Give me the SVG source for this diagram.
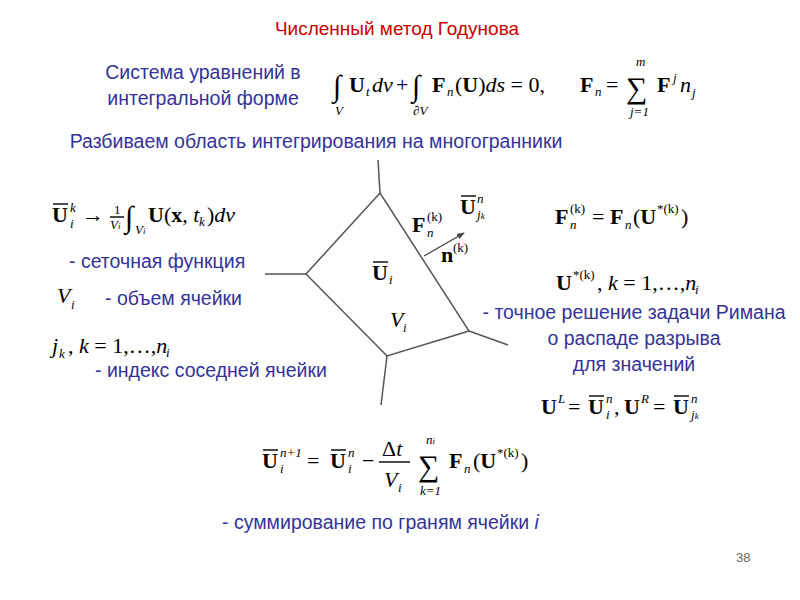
<svg xmlns="http://www.w3.org/2000/svg" width="800" height="600" viewBox="0 0 800 600">
<style>
.t{font-family:"Liberation Sans",Arial,sans-serif;fill:#333399;font-size:19.5px}
.m{font-family:"Liberation Serif","Times New Roman",serif;fill:#000;font-size:22px}
.b{font-weight:bold}
.i{font-style:italic}
.s{font-size:13px}
.xs{font-size:9px}
.big{font-size:30px}
.ln{stroke:#555;stroke-width:1.5;fill:none}
.ob{stroke:#000;stroke-width:1.4}
</style>
<defs><marker id="ah" markerWidth="8" markerHeight="8" refX="7" refY="4" orient="auto" markerUnits="userSpaceOnUse"><path d="M0,1 L8,4 L0,7z" fill="#444"/></marker></defs>
<rect width="800" height="600" fill="#fff"/>
<text x="397" y="35" text-anchor="middle" style="font-family:'Liberation Sans',Arial,sans-serif;font-size:19px;fill:#cc0000">Численный метод Годунова</text>
<text class="t" x="203" y="79" text-anchor="middle">Система уравнений в</text>
<text class="t" x="203" y="105" text-anchor="middle">интегральной форме</text>
<g id="eq-top">
<text class="m big" x="333" y="96">∫</text>
<text class="m b" x="349" y="92">U</text><text class="m s i" x="366" y="96">t</text>
<text class="m i" x="372" y="92">dv</text><text class="m" x="396" y="92">+</text>
<text class="m big" x="412" y="96">∫</text>
<text class="m b" x="432" y="92">F</text><text class="m s i" x="447" y="96">n</text>
<text class="m" x="455" y="92">(<tspan class="b">U</tspan>)<tspan class="i">ds</tspan> = 0,</text>
<text class="m s i" x="335" y="115">V</text><text class="m s i" x="413" y="115">∂V</text>
<text class="m b" x="580" y="92">F</text><text class="m s i" x="595" y="96">n</text>
<text class="m" x="606" y="92">=</text>
<text class="m big" x="626" y="98">∑</text>
<text class="m s i" x="636" y="66">m</text><text class="m s i" x="630" y="116">j=1</text>
<text class="m b" x="657" y="92">F</text><text class="m s i" x="673" y="82">j</text>
<text class="m i" x="680" y="92">n</text><text class="m s i" x="692" y="97">j</text>
</g>
<text class="t" x="316" y="148" text-anchor="middle">Разбиваем область интегрирования на многогранники</text>
<g id="cell">
<polygon class="ln" points="380,193 306,274 387,356 469,331"/>
<line class="ln" x1="380" y1="193" x2="378" y2="160"/>
<line class="ln" x1="306" y1="274" x2="265" y2="274"/>
<line class="ln" x1="387" y1="356" x2="381" y2="405"/>
<line class="ln" x1="469" y1="331" x2="508" y2="345"/>
</g>
<g id="connectors"><line x1="424" y1="256" x2="464" y2="233" stroke="#444" stroke-width="1.3" marker-end="url(#ah)"/></g>
<g id="labels-cell">
<text class="m b" x="372" y="280">U</text><text class="m s i" x="389" y="284">i</text><line class="ob" x1="373" y1="262" x2="388" y2="262"/>
<text class="m i" x="390" y="327">V</text><text class="m s i" x="403" y="332">i</text>
<text class="m b" x="412" y="232">F</text><text class="m s i" x="427" y="237">n</text><text class="m s" x="427" y="221">(k)</text>
<text class="m b" x="460" y="214">U</text><text class="m s i" x="477" y="203">n</text><text class="m s i" x="477" y="219">j<tspan class="xs">k</tspan></text><line class="ob" x1="461" y1="196" x2="476" y2="196"/>
<text class="m b" x="441" y="262">n</text><text class="m s" x="453" y="252">(k)</text>
</g>
<g id="left">
<text class="m b" x="52" y="222">U</text><line class="ob" x1="53" y1="204" x2="68" y2="204"/>
<text class="m s i" x="70" y="212">k</text><text class="m s i" x="70" y="228">i</text>
<text class="m" x="82" y="222">→</text>
<text class="m s" x="114" y="214">1</text><line class="ob" x1="110" y1="217" x2="124" y2="217"/><text class="m s i" x="110" y="229">V<tspan class="xs">i</tspan></text>
<text class="m big" x="125" y="227">∫</text><text class="m s i" x="135" y="234">V<tspan class="xs">i</tspan></text>
<text class="m" x="148" y="222"><tspan class="b">U</tspan>(<tspan class="b">x</tspan>, <tspan class="i">t</tspan></text><text class="m s i" x="199" y="226">k</text><text class="m" x="207" y="222">)<tspan class="i">dv</tspan></text>
<text class="t" x="69" y="268">- сеточная функция</text>
<text class="m i" x="57" y="303">V</text><text class="m s i" x="71" y="309">i</text>
<text class="t" x="105" y="305">- объем ячейки</text>
<text class="m i" x="52" y="353">j</text><text class="m s i" x="59" y="358">k</text>
<text class="m" x="68" y="353">, <tspan class="i">k</tspan> = 1,…,<tspan class="i">n</tspan></text><text class="m s i" x="166" y="357">i</text>
<text class="t" x="95" y="377">- индекс соседней ячейки</text>
</g>
<g id="right">
<text class="m b" x="555" y="224">F</text><text class="m s i" x="570" y="229">n</text><text class="m s" x="570" y="213">(k)</text>
<text class="m" x="592" y="224">= <tspan class="b">F</tspan></text><text class="m s i" x="625" y="229">n</text>
<text class="m" x="633" y="224">(<tspan class="b">U</tspan></text><text class="m s" x="657" y="213">*(k)</text><text class="m" x="681" y="224">)</text>
<text class="m b" x="556" y="290">U</text><text class="m s" x="573" y="279">*(k)</text>
<text class="m" x="597" y="290">, <tspan class="i">k</tspan> = 1,…,<tspan class="i">n</tspan></text><text class="m s i" x="695" y="294">i</text>
<text class="t" x="634" y="319" text-anchor="middle">- точное решение задачи Римана</text>
<text class="t" x="634" y="345" text-anchor="middle">о распаде разрыва</text>
<text class="t" x="634" y="371" text-anchor="middle">для значений</text>
<text class="m b" x="541" y="414">U</text><text class="m s i" x="558" y="403">L</text>
<text class="m" x="568" y="414">=</text>
<text class="m b" x="588" y="414">U</text><line class="ob" x1="589" y1="396" x2="604" y2="396"/><text class="m s i" x="606" y="403">n</text><text class="m s i" x="606" y="419">i</text>
<text class="m" x="614" y="414">,</text>
<text class="m b" x="624" y="414">U</text><text class="m s i" x="641" y="403">R</text>
<text class="m" x="653" y="414">=</text>
<text class="m b" x="673" y="414">U</text><line class="ob" x1="674" y1="396" x2="689" y2="396"/><text class="m s i" x="691" y="403">n</text><text class="m s i" x="691" y="419">j<tspan class="xs">k</tspan></text>
</g>
<g id="bottom">
<text class="m b" x="262" y="468">U</text><line class="ob" x1="263" y1="450" x2="278" y2="450"/><text class="m s i" x="280" y="457">n+1</text><text class="m s i" x="280" y="473">i</text>
<text class="m" x="307" y="468">=</text>
<text class="m b" x="330" y="468">U</text><line class="ob" x1="331" y1="450" x2="346" y2="450"/><text class="m s i" x="348" y="457">n</text><text class="m s i" x="348" y="473">i</text>
<text class="m" x="362" y="468">−</text>
<text class="m" x="382" y="456">Δ<tspan class="i">t</tspan></text><line class="ob" x1="379" y1="462" x2="410" y2="462"/><text class="m i" x="384" y="487">V</text><text class="m s i" x="398" y="492">i</text>
<text class="m big" x="418" y="476">∑</text>
<text class="m s i" x="426" y="444">n<tspan class="xs">i</tspan></text><text class="m s i" x="420" y="495">k=1</text>
<text class="m b" x="449" y="468">F</text><text class="m s i" x="464" y="473">n</text>
<text class="m" x="473" y="468">(<tspan class="b">U</tspan></text><text class="m s" x="497" y="457">*(k)</text><text class="m" x="521" y="468">)</text>
<text class="t" x="222" y="529">- суммирование по граням ячейки <tspan font-style="italic">i</tspan></text>
</g>
<text x="736" y="562" style="font-family:'Liberation Sans',Arial,sans-serif;font-size:13px;fill:#666">38</text>
</svg>
